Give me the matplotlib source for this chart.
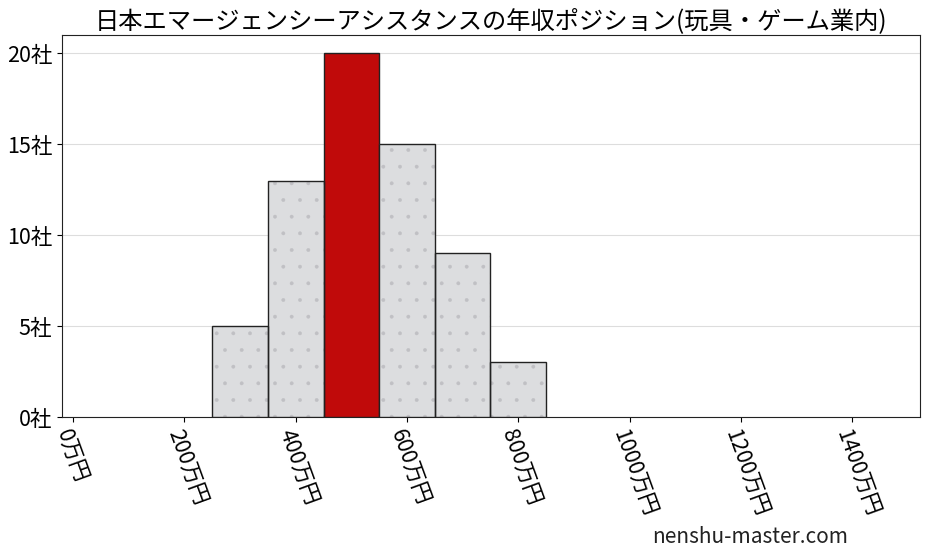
import matplotlib
matplotlib.use("Agg")
import matplotlib.pyplot as plt

plt.rcParams['font.family'] = ['Noto Sans CJK JP', 'DejaVu Sans']
plt.rcParams['hatch.linewidth'] = 0.3

title = "日本エマージェンシーアシスタンスの年収ポジション(玩具・ゲーム業内)"
bin_centers = [300, 400, 500, 600, 700, 800]
counts = [5, 13, 20, 15, 9, 3]
highlight_center = 500
xticks = [0, 200, 400, 600, 800, 1000, 1200, 1400]
xtick_labels = [f"{v}万円" for v in xticks]
yticks = [0, 5, 10, 15, 20]
ytick_labels = [f"{v}社" for v in yticks]

fig = plt.figure(figsize=(9.28, 5.57), dpi=100)
ax = fig.add_axes([62/928, 1-417/557, (920-62)/928, (417-35)/557])

for c, n in zip(bin_centers, counts):
    if c == highlight_center:
        ax.bar(c, n, width=100, color='#c00a0a', edgecolor='#222222', linewidth=1.0, zorder=3)
    else:
        # fill with faint dots
        ax.bar(c, n, width=100, color='#dcdddf', edgecolor='#c0c0c4', linewidth=0,
               hatch='.', zorder=3)
        # outline
        ax.bar(c, n, width=100, fill=False, edgecolor='#222222', linewidth=1.0, zorder=4)

ax.set_xlim(-20, 1522)
ax.set_ylim(0, 21)
ax.set_xticks(xticks)
ax.set_xticklabels(xtick_labels, rotation=-70, ha='left', va='top', fontsize=15.5,
                   rotation_mode='anchor')
ax.set_yticks(yticks)
ax.set_yticklabels(ytick_labels, fontsize=15.5)
ax.grid(axis='y', color='#dddddd', linewidth=0.8, zorder=0)
ax.set_axisbelow(True)
for s in ax.spines.values():
    s.set_color('#222222')
ax.set_title(title, fontsize=17.5, pad=5)
fig.text(848/928, 1-537/557, "nenshu-master.com", ha='right', va='center', fontsize=15,
         color='#222222')

fig.savefig("out.png", dpi=100)
